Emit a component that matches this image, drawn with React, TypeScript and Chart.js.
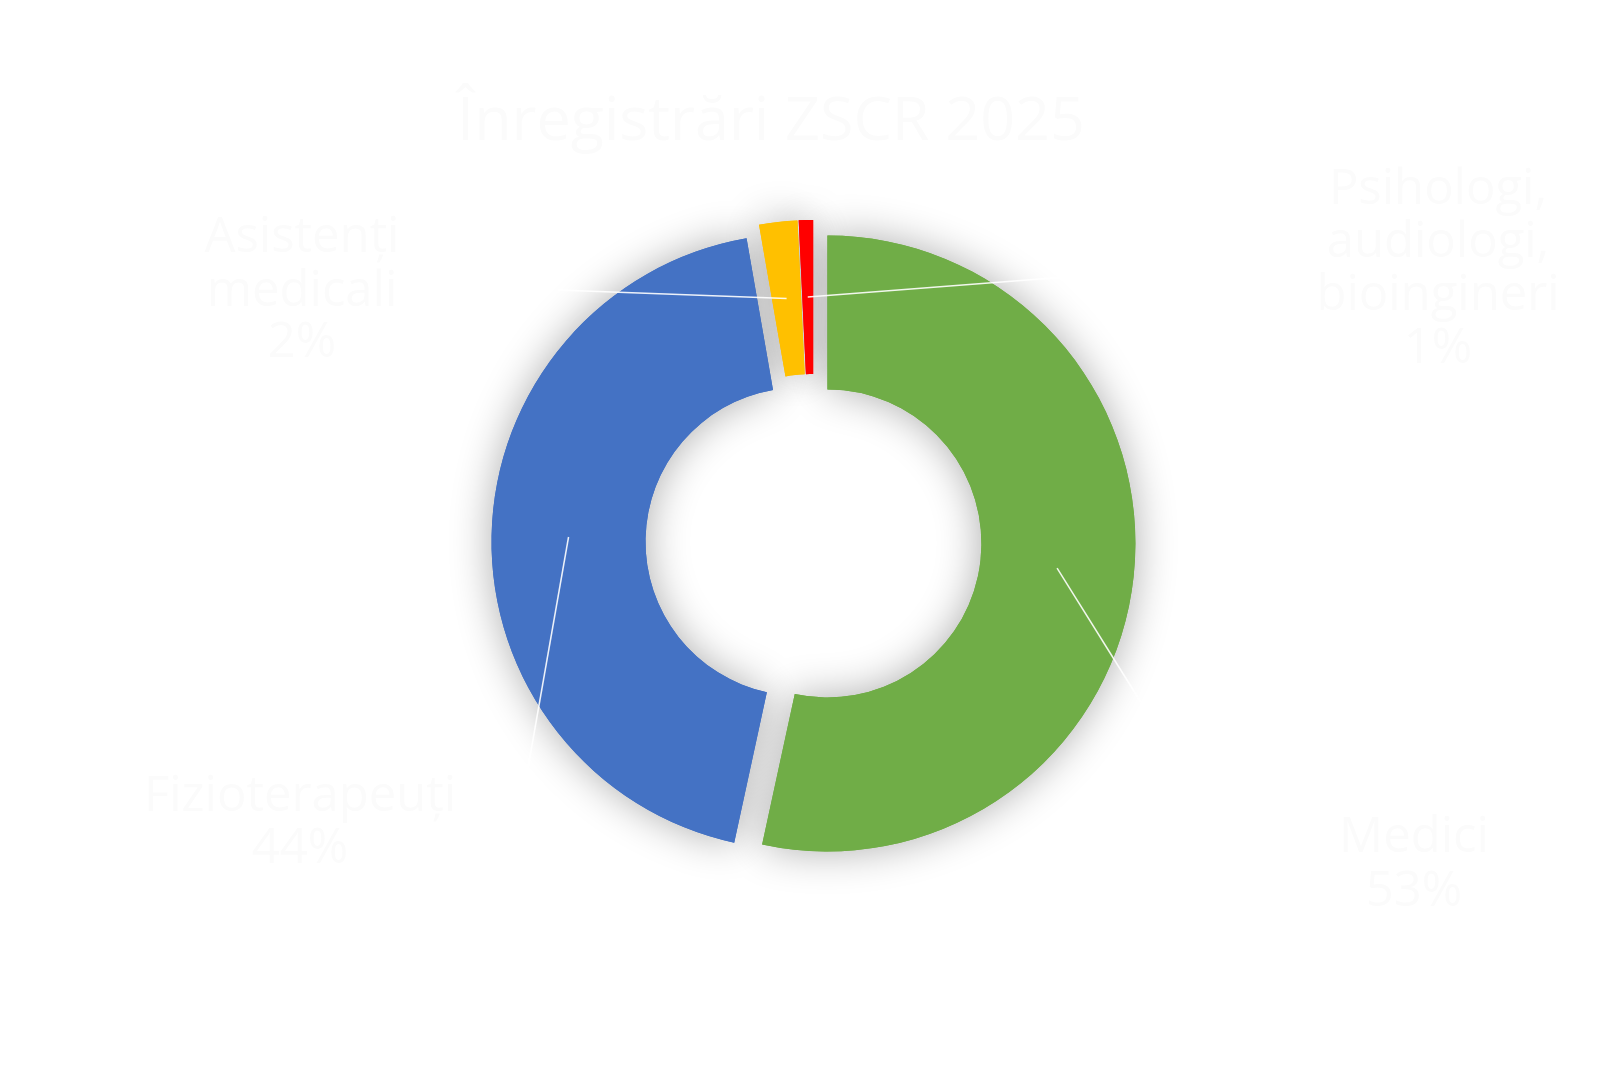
import React, { useEffect, useRef } from "react";
import { Chart, registerables, ArcElement } from "chart.js";

Chart.register(...registerables);

const TITLE = "Înregistrări ZSCR 2025";
const CATEGORIES = ["Medici", "Fizioterapeuți", "Asistenți medicali", "Psihologi, audiologi, bioingineri"];
const VALUES = [53.4, 43.85, 2.0, 0.75];
const PERCENT_LABELS = ["53%", "44%", "2%", "1%"];
const COLORS = ["#70AD47", "#4472C4", "#FFC000", "#FF0000"];
const EXPLODE = [14, 14, 14, 14];

// label layout: line texts, center x, row centers y, leader end point
const LABEL_LINES = [
  ["Medici", PERCENT_LABELS[0]],
  ["Fizioterapeuți", PERCENT_LABELS[1]],
  ["Asistenți", "medicali", PERCENT_LABELS[2]],
  ["Psihologi,", "audiologi,", "bioingineri", PERCENT_LABELS[3]],
];
const LABEL_X = [1414, 300, 302, 1438];
const LABEL_Y = [[838, 892], [797, 849], [238, 292, 343], [190, 243, 296, 349]];
const LEADER_END = [[1142, 704], [528, 768], [558, 290], [1066, 277]];

class ExplodedArc extends ArcElement {
  static id = "explodedArc";
  draw(ctx: CanvasRenderingContext2D) {
    const self: any = this;
    const i = self.$context ? self.$context.dataIndex : 0;
    const e = EXPLODE[i] || 0;
    const half = (self.startAngle + self.endAngle) / 2;
    ctx.save();
    ctx.translate(Math.cos(half) * e, Math.sin(half) * e);
    super.draw(ctx);
    ctx.restore();
  }
}
Chart.register(ExplodedArc as any);
(Chart.defaults as any).datasets.doughnut.dataElementType = "explodedArc";

const shadowPlugin = {
  id: "softShadow",
  beforeDatasetsDraw(chart: any) {
    const ctx = chart.ctx;
    const meta = chart.getDatasetMeta(0);
    ctx.save();
    ctx.shadowColor = "rgba(0,0,0,0.32)";
    ctx.shadowBlur = 42;
    ctx.shadowOffsetX = 0;
    ctx.shadowOffsetY = 0;
    meta.data.forEach((el: any) => el.draw(ctx));
    ctx.restore();
  },
};

const labelPlugin = {
  id: "labelsAndLeaders",
  afterDatasetsDraw(chart: any) {
    const ctx = chart.ctx;
    const meta = chart.getDatasetMeta(0);
    ctx.save();
    // leader lines
    ctx.strokeStyle = "rgba(255,255,255,0.9)";
    ctx.lineWidth = 1.5;
    meta.data.forEach((el: any, i: number) => {
      const mid = (el.startAngle + el.endAngle) / 2;
      const r = (el.innerRadius + el.outerRadius) / 2 + EXPLODE[i];
      const sx = el.x + Math.cos(mid) * r;
      const sy = el.y + Math.sin(mid) * r;
      ctx.beginPath();
      ctx.moveTo(sx, sy);
      ctx.lineTo(LEADER_END[i][0], LEADER_END[i][1]);
      ctx.stroke();
    });
    // labels
    ctx.fillStyle = "#fbfbfb";
    ctx.textAlign = "center";
    ctx.textBaseline = "middle";
    ctx.font = "49px 'Open Sans', sans-serif";
    LABEL_LINES.forEach((lines, i) => {
      lines.forEach((t, j) => {
        ctx.fillText(t, LABEL_X[i], LABEL_Y[i][j]);
      });
    });
    // title
    ctx.textBaseline = "alphabetic";
    ctx.font = "61px 'Open Sans', sans-serif";
    ctx.fillText(TITLE, 771, 140);
    ctx.restore();
  },
};

export default function App() {
  const ref = useRef<HTMLCanvasElement | null>(null);
  useEffect(() => {
    if (!ref.current) return;
    const chart = new Chart(ref.current, {
      type: "doughnut",
      data: {
        labels: CATEGORIES,
        datasets: [
          {
            data: VALUES,
            backgroundColor: COLORS,
            borderWidth: 0,
            hoverOffset: 0,
          },
        ],
      },
      options: {
        responsive: false,
        animation: false,
        radius: 308,
        cutout: "50%",
        layout: { padding: { left: 200, right: 196, top: 100, bottom: 96 } },
        plugins: {
          legend: { display: false },
          tooltip: { enabled: false },
          title: { display: false },
        },
        events: [],
      },
      plugins: [shadowPlugin, labelPlugin],
    } as any);
    return () => chart.destroy();
  }, []);
  return (
    <div style={{ position: "absolute", left: 0, top: 0, width: 1623, height: 1080, background: "#ffffff" }}>
      <canvas ref={ref} width={1623} height={1080} style={{ width: 1623, height: 1080 }} />
    </div>
  );
}
